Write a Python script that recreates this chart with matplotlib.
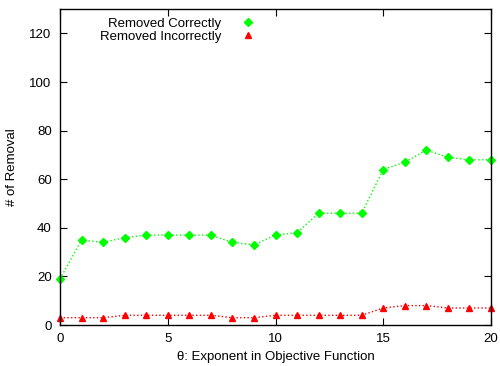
import matplotlib
matplotlib.use('Agg')
from matplotlib import pyplot as plt

plt.rcParams['font.family'] = ['Liberation Sans', 'DejaVu Sans']

theta = list(range(21))
removed_correctly = [19, 35, 34, 36, 37, 37, 37, 37, 34, 33, 37, 38, 46, 46, 46, 64, 67, 72, 69, 68, 68]
removed_incorrectly = [3, 3, 3, 4, 4, 4, 4, 4, 3, 3, 4, 4, 4, 4, 4, 7, 8, 8, 7, 7, 7]

x_ticks = [0, 5, 10, 15, 20]
y_ticks = [0, 20, 40, 60, 80, 100, 120]

fig = plt.figure(figsize=(5.0, 3.66), dpi=100)
ax = fig.add_axes([0.12, 0.112, 0.862, 0.863])

ax.plot(theta, removed_correctly, color='#00ff00', linestyle=':', linewidth=1.0,
        marker='D', markersize=4, label='Removed Correctly', clip_on=False)
ax.plot(theta, removed_incorrectly, color='#ff0000', linestyle=':', linewidth=1.0,
        marker='^', markersize=5, label='Removed Incorrectly', clip_on=False)

ax.set_xlim(0, 20)
ax.set_ylim(0, 130)
ax.set_xticks(x_ticks)
ax.set_yticks(y_ticks)
ax.tick_params(direction='in', top=True, right=True, length=5, labelsize=9.5, pad=6)
for s in ax.spines.values():
    s.set_linewidth(1.0)

ax.set_xlabel('\u03b8: Exponent in Objective Function', fontsize=9.5, labelpad=4)
ax.set_ylabel('# of Removal', fontsize=9.5, labelpad=8)

leg = ax.legend(loc='upper center', bbox_to_anchor=(0.27, 1.01), frameon=False,
                markerfirst=False, handlelength=0.8, handletextpad=1.6,
                fontsize=9.5, labelspacing=0.05)
for h in leg.legend_handles:
    h.set_linestyle('')

fig.savefig('out.png', dpi=100)
